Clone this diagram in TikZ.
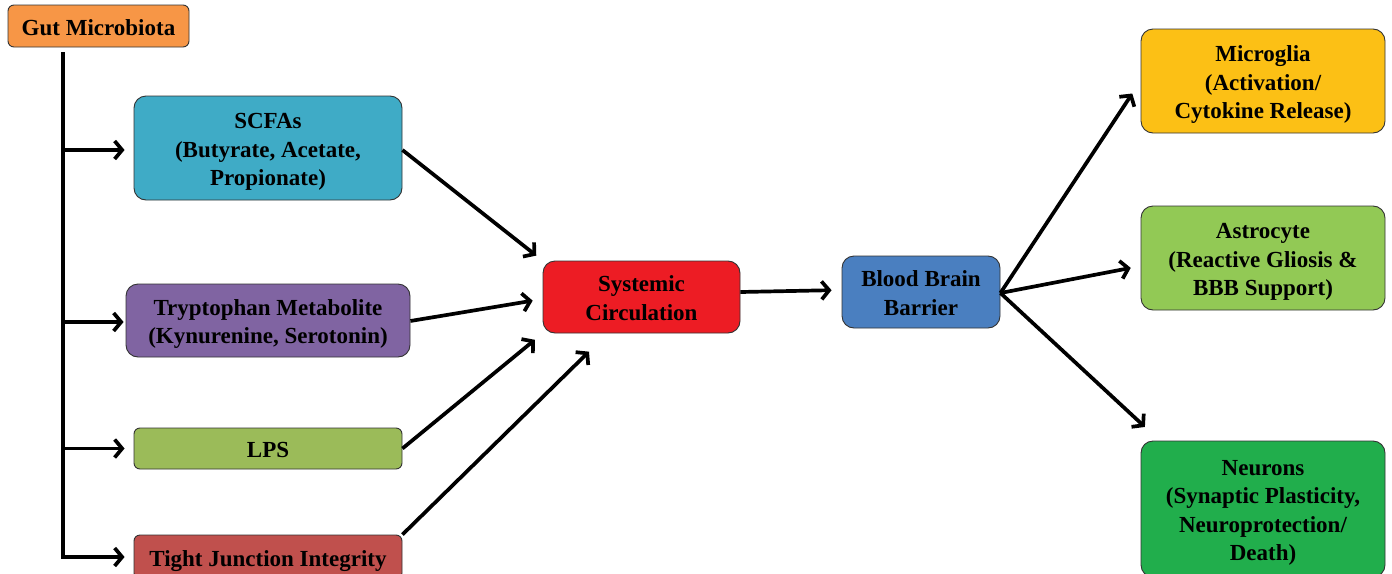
\documentclass[tikz,border=0pt]{standalone}
\usepackage{fontspec}
\setmainfont{Liberation Serif}
\usetikzlibrary{arrows.meta,calc}
\definecolor{cgut}{HTML}{F79646}
\definecolor{cscfa}{HTML}{3FABC6}
\definecolor{ctrp}{HTML}{8064A2}
\definecolor{clps}{HTML}{9BBB59}
\definecolor{ctj}{HTML}{C0504D}
\definecolor{csc}{HTML}{ED1C24}
\definecolor{cbbb}{HTML}{4A7FC0}
\definecolor{cmic}{HTML}{FCC015}
\definecolor{cast}{HTML}{92C955}
\definecolor{cneu}{HTML}{21AE4C}
\newcommand{\lbl}[1]{\raisebox{-3.5pt}[\height][\depth]{\begin{tabular}{@{}c@{}}#1\end{tabular}}}
\tikzset{
  box/.style={draw=black!80, line width=0.9pt, rounded corners=12pt,
    font=\fontsize{23}{28.5}\selectfont\bfseries, inner sep=0pt},
  smallbox/.style={box, rounded corners=6pt},
  arr/.style={line width=3.7pt, -{Straight Barb[length=7.5pt,width=18pt]}},
}
\begin{document}
\begin{tikzpicture}[x=1pt,y=-1pt]
\useasboundingbox (0,0) rectangle (1392,573);
\node[smallbox, fill=cgut, minimum width=181, minimum height=42] (gut) at (98.5,26) {\lbl{Gut Microbiota}};
\node[box, fill=cscfa, minimum width=268, minimum height=104] (scfa) at (268,148) {\lbl{SCFAs\\(Butyrate, Acetate,\\Propionate)}};
\node[box, fill=ctrp, minimum width=284, minimum height=73] (trp) at (268,320.5) {\lbl{Tryptophan Metabolite\\(Kynurenine, Serotonin)}};
\node[smallbox, fill=clps, minimum width=268, minimum height=41] (lps) at (268,448.5) {\lbl{LPS}};
\node[smallbox, fill=ctj, minimum width=268, minimum height=44] (tj) at (268,557) {\lbl{Tight Junction Integrity}};
\node[box, fill=csc, minimum width=197, minimum height=72] (sc) at (641.5,297) {\lbl{Systemic\\Circulation}};
\node[box, fill=cbbb, minimum width=158, minimum height=72] (bbb) at (921,292) {\lbl{Blood Brain\\Barrier}};
\node[box, fill=cmic, minimum width=244, minimum height=104] (mic) at (1263,81) {\lbl{Microglia\\(Activation/\\Cytokine Release)}};
\node[box, fill=cast, minimum width=244, minimum height=104] (ast) at (1263,258) {\lbl{Astrocyte\\(Reactive Gliosis \&\\BBB Support)}};
\node[box, fill=cneu, minimum width=244, minimum height=136] (neu) at (1263,509) {\lbl{Neurons\\(Synaptic Plasticity,\\Neuroprotection/\\Death)}};
\coordinate (trunk) at ([xshift=-35.5pt,yshift=-5pt]gut.south);
\draw[arr, shorten >=9pt] (trunk) |- (tj.west);
\draw[arr, shorten >=9pt] (trunk) |- ([yshift=-2pt]scfa.west);
\draw[arr, shorten >=2pt] (trunk) |- ([yshift=-1.5pt]trp.west);
\draw[arr, shorten >=9pt] (trunk) |- (lps.west);
\draw[arr, shorten >=8pt] ([yshift=-2pt]scfa.east) -- (sc.north west);
\draw[arr, shorten >=10pt] ([yshift=-0.5pt]trp.east) -- ([yshift=-2pt]sc.west);
\draw[arr, shorten >=10pt] (lps.east) -- (sc.south west);
\draw[arr, shorten >=26pt] (tj.north east) -- ([xshift=65pt]sc.south west);
\draw[arr, shorten >=10pt] ([yshift=5pt]sc.east) -- ([yshift=2pt]bbb.west);
\draw[arr, shorten >=15pt] ([yshift=-1pt]bbb.east) -- (mic.west);
\draw[arr, shorten >=10pt] ([yshift=-1pt]bbb.east) -- ([yshift=-8pt]ast.west);
\draw[arr, shorten >=20pt] ([yshift=-1pt]bbb.east) -- ([xshift=19pt]neu.north west);
\end{tikzpicture}
\end{document}
